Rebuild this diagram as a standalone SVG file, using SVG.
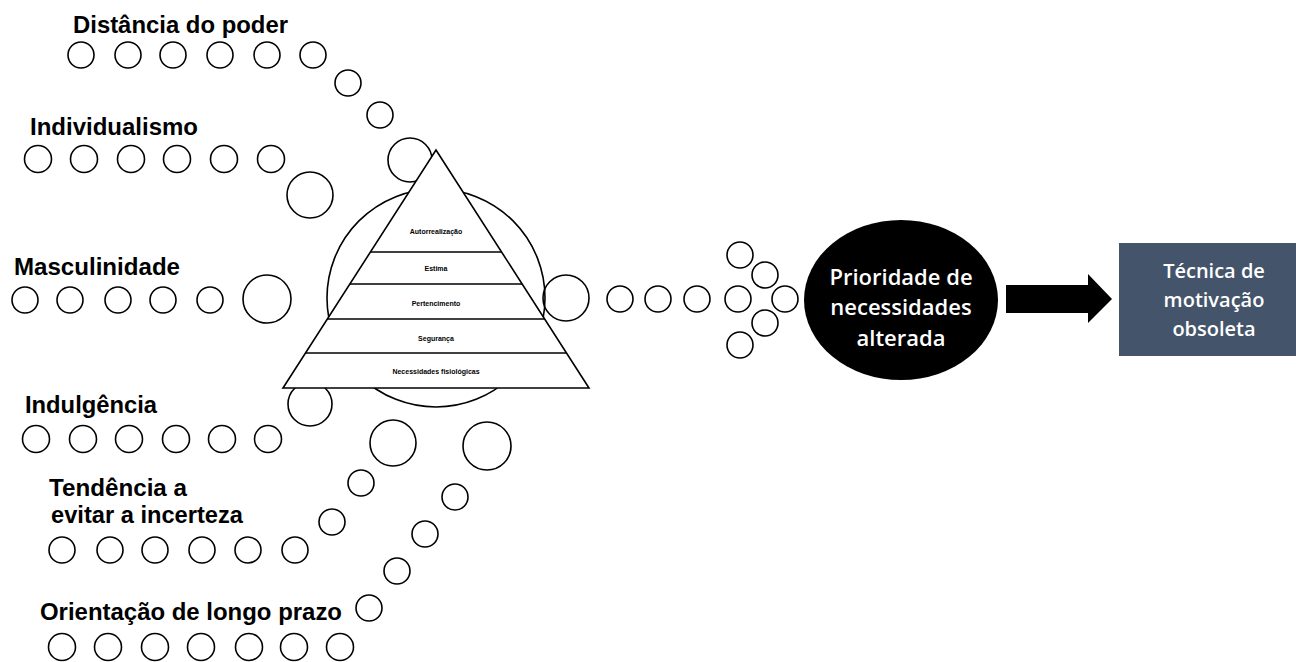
<svg xmlns="http://www.w3.org/2000/svg" width="1296" height="662" viewBox="0 0 1296 662">
<style>
  .c{fill:none;stroke:#000;stroke-width:1.6}
  .cw{fill:#fff;stroke:#000;stroke-width:1.6}
  .lbl{font-family:"Liberation Sans",Arial,sans-serif;font-weight:bold;font-size:23px;fill:#000}
  .pl{font-family:"Liberation Sans",Arial,sans-serif;font-weight:bold;font-size:7px;fill:#000;text-anchor:middle}
  .wt{font-family:"Open Sans","Noto Sans",sans-serif;font-weight:600;fill:#fff;text-anchor:middle}
  .ln{stroke:#000;stroke-width:1.6}
</style>
<rect width="1296" height="662" fill="#fff"/>

<g id="distancia-do-poder">
  <text class="lbl" x="73" y="33" textLength="215" lengthAdjust="spacingAndGlyphs">Distância do poder</text>
  <circle class="c" cx="81" cy="55" r="13"/><circle class="c" cx="128" cy="55" r="13"/><circle class="c" cx="173" cy="55" r="13"/><circle class="c" cx="220" cy="55" r="13"/><circle class="c" cx="267" cy="55" r="13"/><circle class="c" cx="313" cy="55" r="13"/>
</g>
<g id="individualismo">
  <text class="lbl" x="30" y="135" textLength="168" lengthAdjust="spacingAndGlyphs">Individualismo</text>
  <circle class="c" cx="38" cy="159" r="13.5"/><circle class="c" cx="84" cy="159" r="13.5"/><circle class="c" cx="131" cy="159" r="13.5"/><circle class="c" cx="177" cy="159" r="13.5"/><circle class="c" cx="224" cy="159" r="13.5"/><circle class="c" cx="271" cy="159" r="13.5"/>
</g>
<g id="masculinidade">
  <text class="lbl" x="14" y="275" textLength="166" lengthAdjust="spacingAndGlyphs">Masculinidade</text>
  <circle class="c" cx="25" cy="300" r="13"/><circle class="c" cx="70" cy="300" r="13"/><circle class="c" cx="118" cy="300" r="13"/><circle class="c" cx="163" cy="300" r="13"/><circle class="c" cx="210" cy="300" r="13"/>
</g>
<g id="indulgencia">
  <text class="lbl" x="25" y="413" textLength="132" lengthAdjust="spacingAndGlyphs">Indulgência</text>
  <circle class="c" cx="36" cy="439" r="13.5"/><circle class="c" cx="83" cy="439" r="13.5"/><circle class="c" cx="129" cy="439" r="13.5"/><circle class="c" cx="176" cy="439" r="13.5"/><circle class="c" cx="222" cy="439" r="13.5"/><circle class="c" cx="268" cy="439" r="13.5"/>
</g>
<g id="tendencia-evitar-incerteza">
  <text class="lbl" x="49" y="496" textLength="138" lengthAdjust="spacingAndGlyphs">Tendência a</text>
  <text class="lbl" x="51" y="523" textLength="192" lengthAdjust="spacingAndGlyphs">evitar a incerteza</text>
  <circle class="c" cx="62" cy="550" r="13"/><circle class="c" cx="110" cy="550" r="13"/><circle class="c" cx="155" cy="550" r="13"/><circle class="c" cx="202" cy="550" r="13"/><circle class="c" cx="248" cy="550" r="13"/><circle class="c" cx="295" cy="550" r="13"/>
</g>
<g id="orientacao-longo-prazo">
  <text class="lbl" x="40" y="620" textLength="302" lengthAdjust="spacingAndGlyphs">Orientação de longo prazo</text>
  <circle class="c" cx="62" cy="647" r="13.5"/><circle class="c" cx="108" cy="647" r="13.5"/><circle class="c" cx="155" cy="647" r="13.5"/><circle class="c" cx="201" cy="647" r="13.5"/><circle class="c" cx="249" cy="647" r="13.5"/><circle class="c" cx="294" cy="647" r="13.5"/><circle class="c" cx="340" cy="647" r="13.5"/>
</g>

<g id="connectors">
  <!-- trails toward pyramid -->
  <circle class="c" cx="348" cy="83" r="13"/>
  <circle class="c" cx="380" cy="115" r="13"/>
  <circle class="c" cx="410" cy="160" r="22"/>
  <circle class="c" cx="310" cy="195" r="23"/>
  <circle class="c" cx="267" cy="299" r="24"/>
  <circle class="c" cx="310" cy="404" r="22"/>
  <circle class="c" cx="393" cy="443" r="23"/>
  <circle class="c" cx="487" cy="446" r="24"/>
  <circle class="c" cx="361" cy="483" r="13"/>
  <circle class="c" cx="332" cy="522" r="13"/>
  <circle class="c" cx="455" cy="497" r="13"/>
  <circle class="c" cx="425" cy="534" r="13"/>
  <circle class="c" cx="397" cy="571" r="13"/>
  <circle class="c" cx="369" cy="608" r="13"/>
  <!-- trail toward ellipse -->
  <circle class="c" cx="566" cy="298" r="23"/>
  <circle class="c" cx="620" cy="299" r="13"/>
  <circle class="c" cx="658" cy="299" r="13"/>
  <circle class="c" cx="697" cy="299" r="13"/>
  <circle class="c" cx="738" cy="299" r="13"/>
  <circle class="c" cx="785" cy="299" r="13"/>
  <circle class="c" cx="740" cy="255" r="13"/>
  <circle class="c" cx="765" cy="275" r="13"/>
  <circle class="c" cx="765" cy="323" r="13"/>
  <circle class="c" cx="740" cy="345" r="13"/>
  <!-- block arrow -->
  <polygon points="1006,285 1088,285 1088,274 1112,299 1088,323 1088,313 1006,313" fill="#000"/>
</g>

<g id="piramide">
  <circle class="c" cx="436" cy="298" r="109"/>
  <polygon points="436,150 589,388 283,388" fill="#fff" stroke="#000" stroke-width="1.6" stroke-linejoin="miter"/>
  <line class="ln" x1="370.4" y1="252" x2="501.6" y2="252"/>
  <line class="ln" x1="349.8" y1="284" x2="522.2" y2="284"/>
  <line class="ln" x1="327.3" y1="319" x2="544.7" y2="319"/>
  <line class="ln" x1="305.5" y1="353" x2="566.5" y2="353"/>
  <text class="pl" x="436" y="234">Autorrealização</text>
  <text class="pl" x="436" y="271">Estima</text>
  <text class="pl" x="436" y="306">Pertencimento</text>
  <text class="pl" x="436" y="341">Segurança</text>
  <text class="pl" x="436" y="374">Necessidades fisiológicas</text>
</g>

<g id="prioridade">
  <ellipse cx="901" cy="300" rx="97" ry="80" fill="#000"/>
  <text class="wt" x="901" y="285" font-size="22">Prioridade de</text>
  <text class="wt" x="901" y="315" font-size="22">necessidades</text>
  <text class="wt" x="901" y="346" font-size="22">alterada</text>
</g>

<g id="tecnica">
  <rect x="1119" y="243" width="177" height="113" fill="#44546a"/>
  <text class="wt" x="1214" y="278" font-size="20">Técnica de</text>
  <text class="wt" x="1214" y="307" font-size="20">motivação</text>
  <text class="wt" x="1214" y="336" font-size="20">obsoleta</text>
</g>
</svg>
